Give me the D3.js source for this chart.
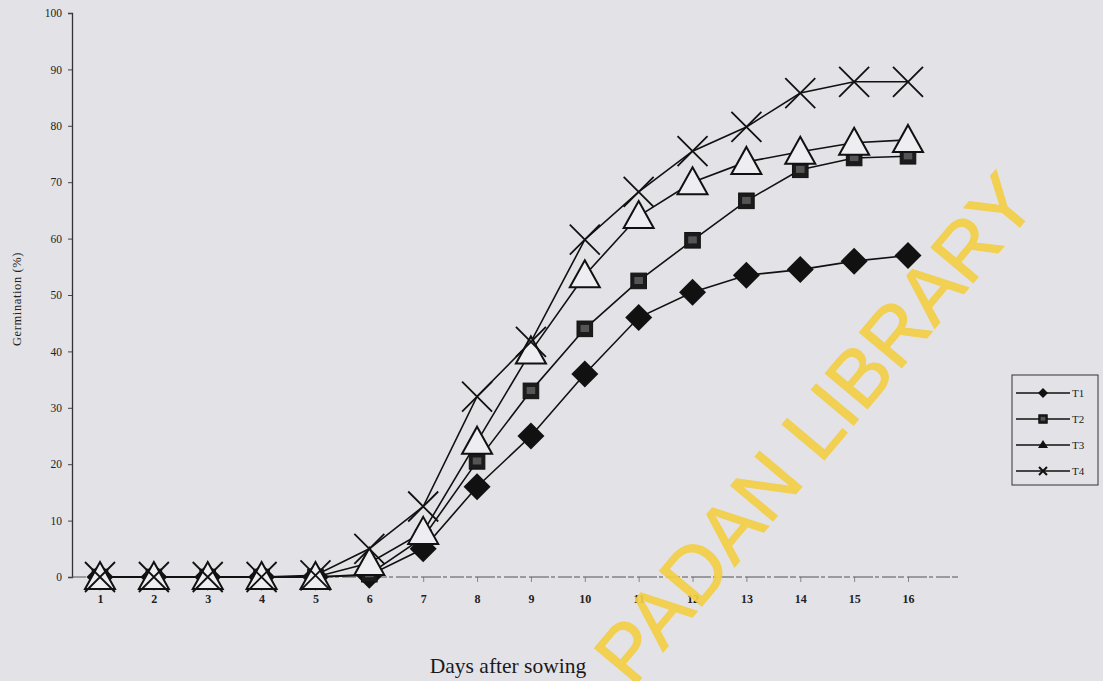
<!DOCTYPE html>
<html>
<head>
<meta charset="utf-8">
<script src="https://cdn.jsdelivr.net/npm/d3@7"></script>
<style>
  body { margin: 0; background: #e3e2e7; }
  svg { display: block; }
  .tickText { font-family: "Liberation Serif", "DejaVu Serif", serif; fill: #222; }
</style>
</head>
<body>
<div id="chart"></div>
<script>
// data
var days = [1, 2, 3, 4, 5, 6, 7, 8, 9, 10, 11, 12, 13, 14, 15, 16];
var t1 = [0, 0, 0, 0, 0, 0.3, 5, 16, 25, 36, 46, 50.5, 53.5, 54.5, 56, 57];
var t2 = [0, 0, 0, 0, 0, 0.5, 7, 20.5, 33, 44, 52.5, 59.7, 66.7, 72.2, 74.3, 74.6];
var t3 = [0, 0, 0, 0, 0, 2.5, 8, 24, 40, 53.5, 64, 70, 73.6, 75.4, 77, 77.5];
var t4 = [0, 0, 0, 0, 0.3, 5, 12.5, 32, 41.7, 59.8, 68.3, 75.5, 79.8, 85.8, 87.8, 87.8];
var seriesNames = ["T1", "T2", "T3", "T4"];
var yTicks = [0, 10, 20, 30, 40, 50, 60, 70, 80, 90, 100];

var width = 1103;
var height = 681;

var svg = d3.select("#chart")
            .append("svg")
            .attr("width", width)
            .attr("height", height);

// scanned page background
svg.append("rect")
   .attr("width", width)
   .attr("height", height)
   .attr("fill", "#e3e2e7");

var xScale = d3.scaleLinear().domain([1, 16]).range([100, 908]);
var yScale = d3.scaleLinear().domain([0, 100]).range([577, 13]);

// y axis
var yAxis = d3.axisLeft(yScale)
              .tickValues(yTicks)
              .tickSize(4)
              .tickPadding(6);

var yG = svg.append("g")
            .attr("transform", "translate(72,0)")
            .call(yAxis);
yG.select(".domain").attr("stroke", "#333").attr("stroke-width", 1.3);
yG.selectAll(".tick line").attr("stroke", "#444");
yG.selectAll(".tick text")
  .attr("class", "tickText")
  .attr("font-size", 11.5);

// x axis - faint, broken line like the scan
var xAxis = d3.axisBottom(xScale)
              .tickValues(days)
              .tickSize(5)
              .tickPadding(12);

var xG = svg.append("g")
            .attr("transform", "translate(0,577)")
            .call(xAxis);
xG.select(".domain").remove();
xG.selectAll(".tick line").attr("stroke", "#888");
xG.selectAll(".tick text")
  .attr("class", "tickText")
  .attr("font-size", 12)
  .attr("font-weight", "bold")
  .attr("fill", "#333");

svg.append("line")
   .attr("x1", 72).attr("x2", 960)
   .attr("y1", 577).attr("y2", 577)
   .attr("stroke", "#555")
   .attr("stroke-width", 1.2)
   .attr("stroke-dasharray", "14,2,6,3,20,2,4,3");

// axis titles
svg.append("text")
   .attr("transform", "translate(21,299)rotate(-90)")
   .attr("text-anchor", "middle")
   .attr("font-family", "Liberation Serif, serif")
   .attr("font-size", 12.5)
   .attr("letter-spacing", 0.6)
   .attr("fill", "#222")
   .text("Germination (%)");

svg.append("text")
   .attr("x", 508)
   .attr("y", 673)
   .attr("text-anchor", "middle")
   .attr("font-family", "Liberation Serif, serif")
   .attr("font-size", 21.5)
   .attr("fill", "#1a1a1a")
   .text("Days after sowing");

// lines
var allSeries = [t1, t2, t3, t4];
var line = d3.line()
             .x((d, i) => xScale(days[i]))
             .y(d => yScale(d));

allSeries.forEach(function(s) {
  svg.append("path")
     .datum(s)
     .attr("d", line)
     .attr("fill", "none")
     .attr("stroke", "#111")
     .attr("stroke-width", 1.6);
});

// marker drawers (r = half width)
function drawMarker(g, kind, x, y, r) {
  if (kind === "T1") {
    g.append("path")
     .attr("d", `M${x},${y - r}L${x + r},${y}L${x},${y + r}L${x - r},${y}Z`)
     .attr("fill", "#111");
  }
  else if (kind === "T2") {
    var s = r * 0.6;
    g.append("rect")
     .attr("x", x - s).attr("y", y - s)
     .attr("width", 2 * s).attr("height", 2 * s)
     .attr("fill", "#1b1b1b")
     .attr("stroke", "#111");
    g.append("rect")
     .attr("x", x - s * 0.55).attr("y", y - s * 0.5)
     .attr("width", s * 1.1).attr("height", s * 0.9)
     .attr("fill", "#555");
  }
  else if (kind === "T3") {
    g.append("path")
     .attr("d", `M${x},${y - r}L${x + r},${y + r * 0.8}L${x - r},${y + r * 0.8}Z`)
     .attr("fill", "#eeedf1")
     .attr("stroke", "#111")
     .attr("stroke-width", 2);
  }
  else {
    g.append("path")
     .attr("d", `M${x - r},${y - r}L${x + r},${y + r}M${x - r},${y + r}L${x + r},${y - r}`)
     .attr("stroke", "#111")
     .attr("stroke-width", 1.8);
  }
}

var markerSize = { T1: 13.5, T2: 13, T3: 15, T4: 15 };
seriesNames.forEach(function(name, k) {
  var g = svg.append("g");
  allSeries[k].forEach(function(v, i) {
    drawMarker(g, name, xScale(days[i]), yScale(v), markerSize[name]);
  });
});

// legend box
var legend = svg.append("g").attr("transform", "translate(1012,375)");
legend.append("rect")
      .attr("width", 86)
      .attr("height", 110)
      .attr("fill", "none")
      .attr("stroke", "#333")
      .attr("stroke-width", 1);

seriesNames.forEach(function(name, k) {
  var ly = 18 + k * 26;
  legend.append("line")
        .attr("x1", 4).attr("x2", 58)
        .attr("y1", ly).attr("y2", ly)
        .attr("stroke", "#111")
        .attr("stroke-width", 1.4);
  if (name === "T3") {
    legend.append("path")
          .attr("d", `M31,${ly - 5}L36,${ly + 3}L26,${ly + 3}Z`)
          .attr("fill", "#111");
  }
  else if (name === "T4") {
    legend.append("path")
          .attr("d", `M27,${ly - 4}L35,${ly + 4}M27,${ly + 4}L35,${ly - 4}`)
          .attr("stroke", "#111").attr("stroke-width", 2);
  }
  else {
    drawMarker(legend, name, 31, ly, name === "T1" ? 5 : 7);
  }
  legend.append("text")
        .attr("x", 60)
        .attr("y", ly + 4)
        .attr("font-family", "Liberation Serif, serif")
        .attr("font-size", 11)
        .attr("fill", "#222")
        .text(name);
});

// library watermark stamped over the scan
svg.append("text")
   .attr("transform", "translate(836,446)rotate(-50)")
   .attr("text-anchor", "middle")
   .attr("font-family", "Liberation Sans, sans-serif")
   .attr("font-size", 80)
   .attr("fill", "#f3cf46")
   .attr("stroke", "#f3cf46")
   .attr("stroke-width", 1.2)
   .attr("opacity", 0.92)
   .text("PADAN LIBRARY");
</script>
</body>
</html>
